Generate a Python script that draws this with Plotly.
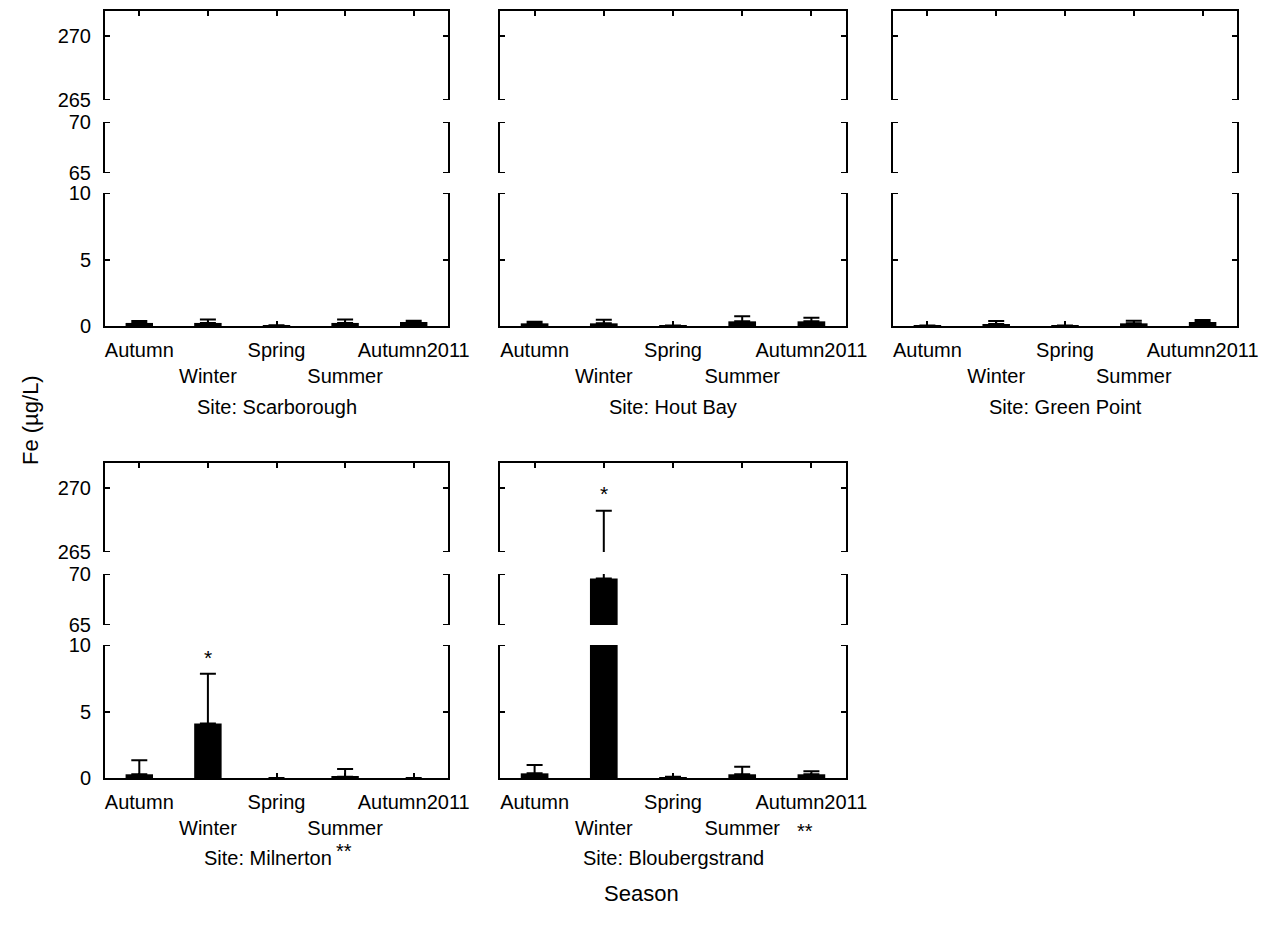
import plotly.graph_objects as go

# Fe concentration (µg/L) per site and season: mean bar heights and upper error
seasons = ["Autumn", "Winter", "Spring", "Summer", "Autumn2011"]
season_ticks = ["Autumn", " <br>Winter", "Spring", " <br>Summer", "Autumn2011"]
sites = ["Scarborough", "Hout Bay", "Green Point", "Milnerton", "Bloubergstrand"]

scarborough_mean = [0.23, 0.23, 0.02, 0.23, 0.30]
scarborough_err = [0.15, 0.25, 0.03, 0.25, 0.10]
hout_bay_mean = [0.20, 0.20, 0.02, 0.35, 0.35]
hout_bay_err = [0.12, 0.27, 0.02, 0.38, 0.27]
green_point_mean = [0.02, 0.15, 0.02, 0.20, 0.30]
green_point_err = [0.02, 0.23, 0.02, 0.20, 0.15]
milnerton_mean = [0.28, 4.10, 0.0, 0.10, 0.0]
milnerton_err = [1.05, 3.74, None, 0.58, None]
bloubergstrand_mean = [0.35, 69.55, 0.05, 0.28, 0.28]
bloubergstrand_err = [0.63, 198.65, 0.05, 0.57, 0.22]

site_means = [scarborough_mean, hout_bay_mean, green_point_mean, milnerton_mean, bloubergstrand_mean]
site_errs = [scarborough_err, hout_bay_err, green_point_err, milnerton_err, bloubergstrand_err]

# significance marks: (site index, season, value)
single_stars = [(3, "Winter", 9.4), (4, "Winter", 269.9)]

# broken value axis: segments from bottom to top
segments = [(0, 10), (65, 70), (265, 271.9)]
segment_ticks = [[0, 5, 10], [65, 70], [265, 270]]

W, H = 1279, 934
FONT = "Liberation Sans, Arial, sans-serif"
col_px = [(105, 448), (500, 846), (893, 1237)]
# pixel (top, bottom) of each segment in the first row, bottom segment first
seg_px = [(193, 326), (122, 173), (11, 100)]
row_shift = 452
# title centres (x px) for each site, and their rows' y px
title_x = [276.5, 673, 1065, 268, 673]
title_y = [407, 858]

fig = go.Figure()
layout = dict(
    width=W, height=H, margin=dict(l=0, r=0, t=0, b=0, autoexpand=False),
    plot_bgcolor="white", paper_bgcolor="white", showlegend=False,
    font=dict(family=FONT, size=20, color="black"),
)
shapes = []
annotations = []

for p, site in enumerate(sites):
    row, col = divmod(p, 3)
    x0, x1 = col_px[col]
    for s, (lo, hi) in enumerate(segments):
        n = p * 3 + s + 1
        xa = "xaxis" if n == 1 else f"xaxis{n}"
        ya = "yaxis" if n == 1 else f"yaxis{n}"
        xr = "x" if n == 1 else f"x{n}"
        yr = "y" if n == 1 else f"y{n}"
        top, bot = seg_px[s]
        top += row * row_shift
        bot += row * row_shift

        xdict = dict(
            domain=[x0 / W, x1 / W], anchor=yr, range=[-0.5, 4.5],
            type="category", categoryorder="array", categoryarray=seasons,
            showgrid=False, zeroline=False, fixedrange=True, automargin=False,
        )
        if s == 0:
            xdict.update(
                showline=True, linecolor="black", linewidth=2,
                ticks="inside", ticklen=5, tickwidth=2, tickcolor="black",
                tickmode="array", tickvals=seasons, ticktext=season_ticks,
                tickfont=dict(size=20, family=FONT), ticklabelstandoff=5,
                tickangle=0,
            )
        elif s == 2:
            xdict.update(
                side="top", showline=True, linecolor="black", linewidth=2,
                ticks="inside", ticklen=5, tickwidth=2, tickcolor="black",
                tickmode="array", tickvals=seasons, showticklabels=False,
            )
        else:
            xdict.update(showline=False, ticks="", showticklabels=False)
        layout[xa] = xdict

        layout[ya] = dict(
            domain=[1 - bot / H, 1 - top / H], anchor=xr, range=[lo, hi],
            showline=True, mirror="ticks", linecolor="black", linewidth=2,
            ticks="inside", ticklen=5, tickwidth=2, tickcolor="black",
            tickmode="array", tickvals=segment_ticks[s],
            showticklabels=(col == 0), tickfont=dict(size=20, family=FONT),
            ticklabelstandoff=8, showgrid=False, zeroline=False,
            fixedrange=True, automargin=False,
        )

        fig.add_trace(go.Bar(
            x=seasons, y=site_means[p], width=0.4,
            marker=dict(color="black", line=dict(width=0)),
            error_y=dict(type="data", symmetric=False, array=site_errs[p],
                         arrayminus=[0] * 5, color="black", thickness=2, width=8),
            xaxis=xr, yaxis=yr, hoverinfo="skip",
        ))

        # end caps on the broken axis segments
        cap_vals = []
        if s > 0:
            cap_vals.append(lo)
        if s < 2:
            cap_vals.append(hi)
        for v in cap_vals:
            for xa_pos in (-0.5, 4.5):
                shapes.append(dict(
                    type="line", xref=xr, yref=yr, xsizemode="pixel",
                    xanchor=xa_pos, x0=-5, x1=5, y0=v, y1=v,
                    line=dict(color="black", width=2),
                ))

    # site title under each panel
    annotations.append(dict(
        text=f"Site: {site}", xref="paper", yref="paper",
        x=title_x[p] / W, y=1 - title_y[row] / H, showarrow=False,
        xanchor="center", yanchor="middle", font=dict(size=20, family=FONT),
    ))

# single-star significance marks above bars
for p, season, val in single_stars:
    seg = 0 if val <= segments[0][1] else (1 if val <= segments[1][1] else 2)
    n = p * 3 + seg + 1
    annotations.append(dict(
        text="*", xref=f"x{n}", yref=f"y{n}", x=season, y=val,
        showarrow=False, xanchor="center", yanchor="middle", yshift=-5,
        font=dict(size=21, family=FONT),
    ))

# double-star marks next to the lower site titles
annotations.append(dict(text="**", xref="paper", yref="paper",
                        x=344 / W, y=1 - 851 / H, showarrow=False,
                        xanchor="center", yanchor="middle",
                        font=dict(size=20, family=FONT)))
annotations.append(dict(text="**", xref="paper", yref="paper",
                        x=805 / W, y=1 - 831 / H, showarrow=False,
                        xanchor="center", yanchor="middle",
                        font=dict(size=20, family=FONT)))

# shared axis titles
annotations.append(dict(text="Fe (µg/L)", xref="paper", yref="paper",
                        x=30 / W, y=1 - 420 / H, showarrow=False, textangle=-90,
                        xanchor="center", yanchor="middle",
                        font=dict(size=22, family=FONT)))
annotations.append(dict(text="Season", xref="paper", yref="paper",
                        x=641 / W, y=1 - 893 / H, showarrow=False,
                        xanchor="center", yanchor="middle",
                        font=dict(size=22, family=FONT)))

layout["shapes"] = shapes
layout["annotations"] = annotations
fig.update_layout(**layout)
fig.write_html("out.html", post_script="document.body.style.margin='0';")
